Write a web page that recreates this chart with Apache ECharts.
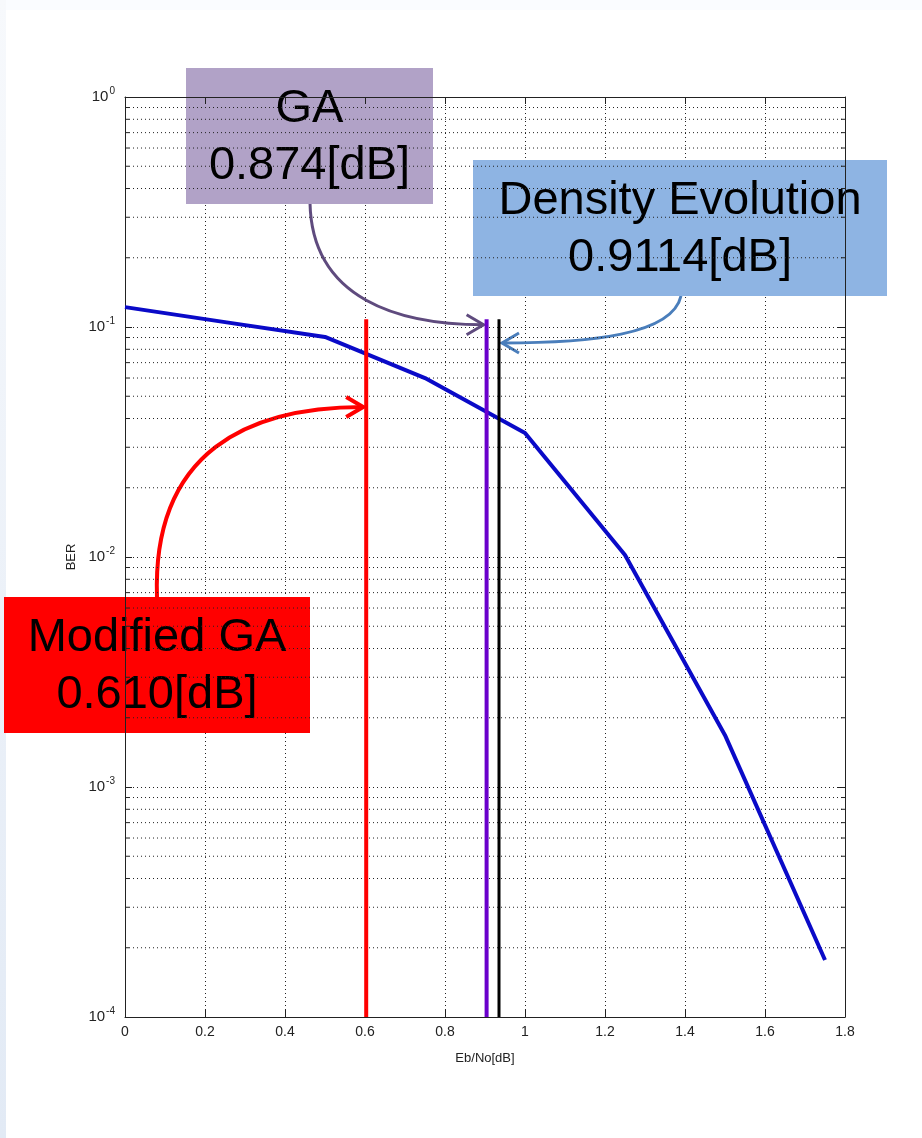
<!DOCTYPE html>
<html>
<head>
<meta charset="utf-8">
<script src="https://cdn.jsdelivr.net/npm/echarts@6/dist/echarts.min.js"></script>
<style>
  html, body { margin: 0; padding: 0; background: #fff; }
  #chart { width: 922px; height: 1138px; }
</style>
</head>
<body>
<div id="chart"></div>
<script>
// BER curve
const ebNo = [0, 0.25, 0.5, 0.75, 1.0, 1.25, 1.5, 1.75];
const ber = [0.122, 0.105, 0.0905, 0.06, 0.0346, 0.0102, 0.00168, 0.000177];

// threshold markers (drawn position, label text)
const thresholdNames = ["Modified GA", "GA", "Density Evolution"];
const thresholdX = [0.603, 0.904, 0.935];
const thresholdLabels = ["0.610[dB]", "0.874[dB]", "0.9114[dB]"];
const thresholdTop = 0.108;
const arrowTipBer = [0.0449, 0.1023, 0.0852];

// axes
const berMin = 0.0001;
const berMax = 1;
const xTicks = [0, 0.2, 0.4, 0.6, 0.8, 1, 1.2, 1.4, 1.6, 1.8];
const decades = [0.0001, 0.001, 0.01, 0.1];
const mantissas = [2, 3, 4, 5, 6, 7, 8, 9];

const minorBer = [];
decades.forEach(d => mantissas.forEach(m => minorBer.push(+(d * m).toPrecision(3))));

const lineColors = ["#ff0000", "#6a00cc", "#000000"];
const lineWidths = [4, 4, 3];
const boxColors = ["#ff0000", "#b1a2c7", "#8eb4e3"];
const arrowColors = ["#ff0000", "#5f4b7e", "#4a7ebb"];

const chart = echarts.init(document.getElementById("chart"));
const tickFont = "'Liberation Sans Narrow', 'Liberation Sans', Arial, sans-serif";
const dotted = { color: "#222", width: 1, type: [1, 3] };

const thresholdSeries = thresholdX.map((x, i) => ({
  name: thresholdNames[i],
  type: "line",
  data: [[x, berMin], [x, thresholdTop]],
  showSymbol: false,
  silent: true,
  z: 4,
  lineStyle: { color: lineColors[i], width: lineWidths[i] }
}));

const option = {
  animation: false,
  backgroundColor: "#fff",
  grid: { left: 125, right: 77, top: 97, bottom: 121, containLabel: false },
  xAxis: [
    {
      type: "value",
      min: 0,
      max: 1.8,
      interval: 0.2,
      name: "Eb/No[dB]",
      nameLocation: "middle",
      nameGap: 35,
      nameTextStyle: { color: "#222", fontSize: 13, fontFamily: tickFont },
      axisLine: { onZero: false, lineStyle: { color: "#222", width: 1 } },
      axisTick: { inside: true, length: 7, lineStyle: { color: "#222" } },
      axisLabel: { color: "#222", fontSize: 14, fontFamily: tickFont, margin: 8 },
      splitLine: { show: true, lineStyle: dotted }
    },
    {
      type: "value",
      position: "top",
      min: 0,
      max: 1.8,
      interval: 0.2,
      axisLine: { onZero: false, lineStyle: { color: "#222", width: 1 } },
      axisTick: { inside: true, length: 7, lineStyle: { color: "#222" } },
      axisLabel: { show: false },
      splitLine: { show: false }
    }
  ],
  yAxis: [
    {
      type: "log",
      logBase: 10,
      min: berMin,
      max: berMax,
      splitNumber: 4,
      name: "BER",
      nameLocation: "middle",
      nameRotate: 90,
      nameGap: 44,
      nameTextStyle: { color: "#222", fontSize: 13, fontFamily: tickFont },
      axisLine: { show: true, onZero: false, lineStyle: { color: "#222", width: 1 } },
      axisTick: { inside: true, length: 7, lineStyle: { color: "#222" } },
      axisLabel: {
        margin: 10,
        formatter: v => "10{sup|" + Math.round(Math.log10(v)) + "}",
        rich: {
          sup: { fontSize: 10, color: "#222", fontFamily: tickFont, padding: [0, 0, 12, 1] }
        },
        color: "#222",
        fontSize: 15,
        fontFamily: tickFont
      },
      splitLine: { show: true, lineStyle: dotted }
    },
    {
      type: "log",
      logBase: 10,
      position: "right",
      min: berMin,
      max: berMax,
      splitNumber: 4,
      axisLine: { show: true, onZero: false, lineStyle: { color: "#222", width: 1 } },
      axisTick: { inside: true, length: 7, lineStyle: { color: "#222" } },
      axisLabel: { show: false },
      splitLine: { show: false }
    }
  ],
  series: [
    {
      // minor log grid lines with short ticks on both sides
      type: "custom",
      silent: true,
      z: 1,
      data: minorBer.map(v => [0, v]),
      encode: { x: 0, y: 1 },
      renderItem: (params, api) => {
        const cs = params.coordSys;
        const y = api.coord([0, api.value(1)])[1];
        return {
          type: "group",
          children: [
            {
              type: "line",
              shape: { x1: cs.x, y1: y, x2: cs.x + cs.width, y2: y },
              style: { stroke: "#222", lineWidth: 1, lineDash: [1, 3] }
            },
            {
              type: "line",
              shape: { x1: cs.x, y1: y, x2: cs.x + 4, y2: y },
              style: { stroke: "#222", lineWidth: 1 }
            },
            {
              type: "line",
              shape: { x1: cs.x + cs.width - 4, y1: y, x2: cs.x + cs.width, y2: y },
              style: { stroke: "#222", lineWidth: 1 }
            }
          ]
        };
      }
    },
    {
      name: "BER",
      type: "line",
      data: ebNo.map((x, i) => [x, ber[i]]),
      showSymbol: false,
      z: 3,
      lineStyle: { color: "#0a0ac8", width: 4, join: "round" }
    },
    ...thresholdSeries
  ]
};

chart.setOption(option);

// callout boxes and curved arrows; arrow tips follow the threshold lines
const tip = i => chart.convertToPixel({ xAxisIndex: 0, yAxisIndex: 0 }, [thresholdX[i], arrowTipBer[i]]);
const tips = [tip(0), tip(1), tip(2)];
const redTip = [tips[0][0] - 3, tips[0][1]];
const gaTip = [tips[1][0] - 3, tips[1][1]];
const deTip = [tips[2][0] + 3, tips[2][1]];

const boxFont = "47px 'Liberation Sans', Arial, sans-serif";
const box = (i, x, y, w, h) => ({
  type: "group",
  x: x,
  y: y,
  z: 20,
  children: [
    { type: "rect", shape: { x: 0, y: 0, width: w, height: h }, style: { fill: boxColors[i] } },
    {
      type: "text",
      x: w / 2,
      y: h / 2 + 2,
      style: {
        text: thresholdNames[i] + "\n" + thresholdLabels[i],
        font: boxFont,
        fill: "#000",
        align: "center",
        verticalAlign: "middle",
        lineHeight: 57
      }
    }
  ]
});

const arrow = (i, start, cp1, cp2, end, dir, width) => ({
  type: "group",
  z: 18,
  children: [
    {
      type: "bezierCurve",
      shape: { x1: start[0], y1: start[1], cpx1: cp1[0], cpy1: cp1[1], cpx2: cp2[0], cpy2: cp2[1], x2: end[0], y2: end[1] },
      style: { stroke: arrowColors[i], lineWidth: width, fill: null }
    },
    {
      type: "polyline",
      shape: { points: [[end[0] - 17 * dir, end[1] - 10], end, [end[0] - 17 * dir, end[1] + 10]] },
      style: { stroke: arrowColors[i], lineWidth: width, fill: null, lineJoin: "miter" }
    }
  ]
});

chart.setOption({
  graphic: [
    {
      type: "rect",
      z: 0,
      shape: { x: 0, y: 0, width: 922, height: 10 },
      style: { fill: "#fafcff" }
    },
    {
      type: "rect",
      z: 0,
      shape: { x: 0, y: 0, width: 6, height: 1138 },
      style: {
        fill: new echarts.graphic.LinearGradient(0, 0, 0, 1, [
          { offset: 0, color: "#f7f9fc" },
          { offset: 1, color: "#e2eaf5" }
        ])
      }
    },
    arrow(0, [157, 597], [152, 450], [250, 407], redTip, 1, 4),
    arrow(1, [310, 203], [312, 300], [400, gaTip[1]], gaTip, 1, 3),
    arrow(2, [681, 296], [672, 335], [590, deTip[1]], deTip, -1, 3),
    box(1, 186, 68, 247, 136),
    box(2, 473, 160, 414, 136),
    box(0, 4, 597, 306, 136)
  ]
});

window.addEventListener("resize", () => chart.resize());
</script>
</body>
</html>
